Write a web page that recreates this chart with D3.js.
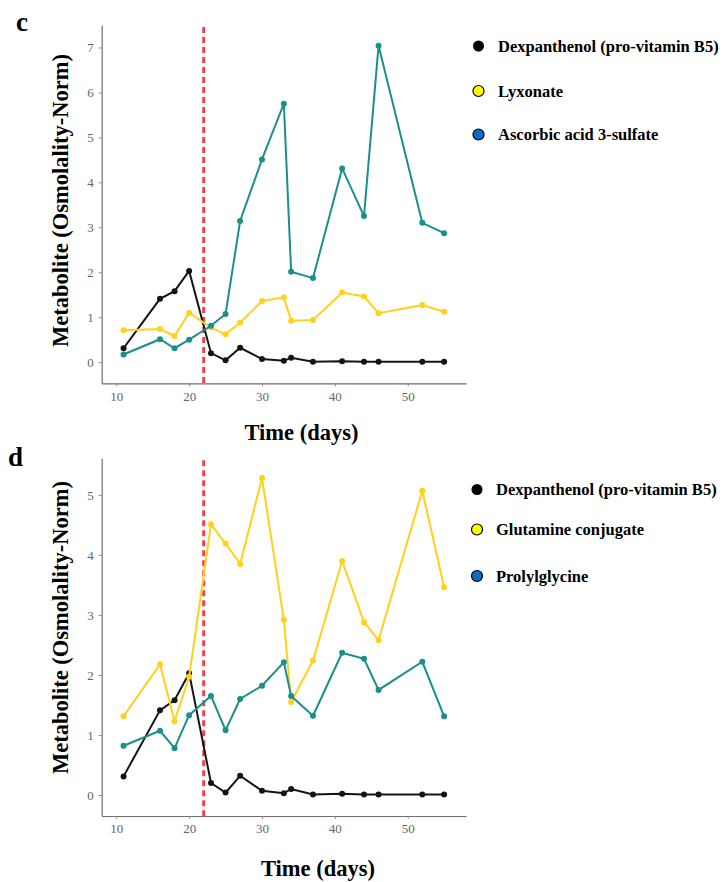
<!DOCTYPE html>
<html>
<head>
<meta charset="utf-8">
<script src="https://cdn.jsdelivr.net/npm/d3@7"></script>
<style>
  body { margin: 0; background: #fff; }
  svg { display: block; }
</style>
</head>
<body>
<div id="chart"></div>
<script>
// sampling days, shared by both panels
const days = [11, 16, 18, 20, 23, 25, 27, 30, 33, 34, 37, 41, 44, 46, 52, 55]
const treatmentDay = 22
const xTicks = [10, 20, 30, 40, 50]

// panel c
const dexpanthenol = [0.31, 1.41, 1.58, 2.03, 0.2, 0.04, 0.32, 0.07, 0.03, 0.1, 0.01, 0.02, 0.01, 0.01, 0.01, 0.01]
const lyxonate = [0.71, 0.74, 0.58, 1.1, 0.77, 0.62, 0.88, 1.36, 1.44, 0.92, 0.94, 1.55, 1.46, 1.09, 1.27, 1.12]
const ascorbicSulfate = [0.17, 0.51, 0.31, 0.5, 0.81, 1.07, 3.14, 4.51, 5.75, 2.01, 1.87, 4.31, 3.25, 7.04, 3.1, 2.87]
const yTicksC = [0, 1, 2, 3, 4, 5, 6, 7]

// panel d
const glutamineConj = [1.31, 2.18, 1.23, 1.97, 4.51, 4.19, 3.85, 5.28, 2.92, 1.55, 2.24, 3.9, 2.88, 2.58, 5.07, 3.46]
const prolylglycine = [0.82, 1.07, 0.78, 1.33, 1.65, 1.08, 1.6, 1.82, 2.21, 1.65, 1.32, 2.37, 2.27, 1.75, 2.22, 1.31]
const yTicksD = [0, 1, 2, 3, 4, 5]

const legendC = ['Dexpanthenol (pro-vitamin B5)', 'Lyxonate', 'Ascorbic acid 3-sulfate']
const legendD = ['Dexpanthenol (pro-vitamin B5)', 'Glutamine conjugate', 'Prolylglycine']

const lineColors = ['#141414', '#FFD21A', '#1A908C']
const keyColors = ['#000000', '#FFFF00', '#0A6CC2']
const serif = "'Liberation Serif', 'Times New Roman', serif"

const W = 724, H = 882
const svg = d3.select('#chart').append('svg')
  .attr('width', W)
  .attr('height', H)
  .attr('font-family', serif)

const panels = [
  { letter: 'c', lx: 16, ly: 31, series: [dexpanthenol, lyxonate, ascorbicSulfate], names: legendC, yTicks: yTicksC,
    yDomain: [-0.47, 7.5], yRange: [383.3, 25], titleX: 301.5, titleY: 440, yTitleY: 200.5,
    keyX: 478.5, keyY: [46, 91, 134.5], keyTextX: 498 },
  { letter: 'd', lx: 8, ly: 466, series: [dexpanthenol, glutamineConj, prolylglycine], names: legendD, yTicks: yTicksD,
    yDomain: [-0.35, 5.61], yRange: [816, 458.3], titleX: 318, titleY: 876, yTitleY: 627.5,
    keyX: 477, keyY: [489.5, 529.5, 576], keyTextX: 496 }
]

const xLeft = 101.7, xRight = 466

panels.forEach(p => {
  const g = svg.append('g')
  const x = d3.scaleLinear().domain([8, 58]).range([xLeft, xRight])
  const y = d3.scaleLinear().domain(p.yDomain).range(p.yRange)

  const xAxis = g.append('g')
    .attr('transform', `translate(0,${p.yRange[0]})`)
    .call(d3.axisBottom(x).tickValues(xTicks).tickFormat(d3.format('d')).tickSizeInner(3).tickSizeOuter(0).tickPadding(5))
  const yAxis = g.append('g')
    .attr('transform', `translate(${xLeft},0)`)
    .call(d3.axisLeft(y).tickValues(p.yTicks).tickFormat(d3.format('d')).tickSizeInner(3).tickSizeOuter(0).tickPadding(5))

  ;[xAxis, yAxis].forEach(a => {
    a.attr('font-family', serif).attr('font-size', 13)
    a.select('.domain').attr('stroke', '#6e6e6e').attr('stroke-width', 1.2)
    a.selectAll('.tick line').attr('stroke', '#8a8a8a')
    a.selectAll('.tick text').attr('fill', '#666')
  })

  // treatment start
  g.append('line')
    .attr('x1', x(treatmentDay)).attr('x2', x(treatmentDay))
    .attr('y1', p.yRange[1] + 2).attr('y2', p.yRange[0])
    .attr('stroke', '#F2414B')
    .attr('stroke-width', 3)
    .attr('stroke-dasharray', '6 4')

  const line = d3.line().x((d, i) => x(days[i])).y(d => y(d))

  p.series.forEach((s, k) => {
    g.append('path')
      .datum(s)
      .attr('d', line)
      .attr('fill', 'none')
      .attr('stroke', lineColors[k])
      .attr('stroke-width', 2)
    g.selectAll('.pt' + k)
      .data(s)
      .enter()
      .append('circle')
      .attr('cx', (d, i) => x(days[i]))
      .attr('cy', d => y(d))
      .attr('r', 3)
      .attr('fill', lineColors[k])
  })

  // axis titles
  g.append('text')
    .attr('x', p.titleX)
    .attr('y', p.titleY)
    .attr('text-anchor', 'middle')
    .style('font-size', '22.5px')
    .style('font-weight', 'bold')
    .text('Time (days)')

  g.append('text')
    .attr('transform', `translate(68,${p.yTitleY}) rotate(-90)`)
    .attr('text-anchor', 'middle')
    .style('font-size', '22.5px')
    .style('font-weight', 'bold')
    .text('Metabolite (Osmolality-Norm)')

  g.append('text')
    .attr('x', p.lx)
    .attr('y', p.ly)
    .style('font-size', '27px')
    .style('font-weight', 'bold')
    .text(p.letter)

  // legend
  p.names.forEach((n, k) => {
    g.append('circle')
      .attr('cx', p.keyX)
      .attr('cy', p.keyY[k])
      .attr('r', 5.5)
      .attr('fill', keyColors[k])
      .attr('stroke', '#000')
      .attr('stroke-width', k === 0 ? 0 : 1.2)
    g.append('text')
      .attr('x', p.keyTextX)
      .attr('y', p.keyY[k] + 5.5)
      .style('font-size', '16.5px')
      .style('font-weight', 'bold')
      .text(n)
  })
})
</script>
</body>
</html>
